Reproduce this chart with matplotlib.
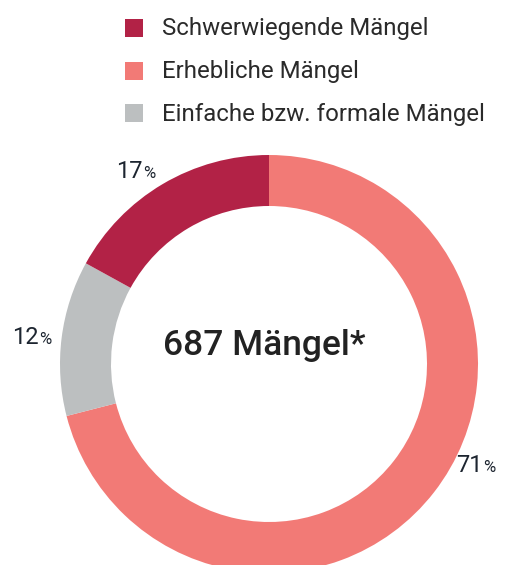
import matplotlib
matplotlib.use('Agg')
import matplotlib.pyplot as plt
from matplotlib.patches import Rectangle

# data
categories = ['Schwerwiegende Mängel', 'Erhebliche Mängel', 'Einfache bzw. formale Mängel']
shares = [17, 71, 12]
colors = ['#B22246', '#F27A76', '#BCBFC0']
total_label = '687 Mängel*'

# clockwise from 12 o'clock: Erhebliche, Einfache, Schwerwiegende
draw_order = [1, 2, 0]

W, H = 514, 565
TEXT = '#1d2530'

fig = plt.figure(figsize=(W / 100, H / 100), dpi=100)
ax = fig.add_axes([0, 0, 1, 1])

ax.pie(
    [shares[i] for i in draw_order],
    colors=[colors[i] for i in draw_order],
    startangle=90,
    counterclock=False,
    center=(269, H - 364),
    radius=209,
    wedgeprops=dict(width=51, linewidth=0),
)
ax.set_xlim(0, W)
ax.set_ylim(0, H)
ax.set_aspect('equal')
ax.axis('off')

# legend
for k, (name, col) in enumerate(zip(categories, colors)):
    yc = H - (28 + k * 42.5)
    ax.add_patch(Rectangle((125, yc - 9), 18, 18, color=col, lw=0))
    ax.text(162, yc - 1, name, fontsize=17.3, family='Roboto', weight='normal',
            color='#2a2a2a', va='center', ha='left')

# percent labels (x of split between number and %, y center)
label_pos = {0: (143, 172), 1: (483, 466), 2: (39, 338)}
for i, (x, y) in label_pos.items():
    ax.text(x, H - y, f'{shares[i]}', fontsize=17, family='Roboto', weight='normal',
            color=TEXT, ha='right', va='center')
    ax.text(x, H - y - 2, '%', fontsize=12, family='Roboto', weight='normal',
            color=TEXT, ha='left', va='center')

ax.text(264, H - 345, total_label, fontsize=25.5, family='Roboto', weight='medium',
        color='#222222', ha='center', va='center')

fig.savefig('out.png', dpi=100)
